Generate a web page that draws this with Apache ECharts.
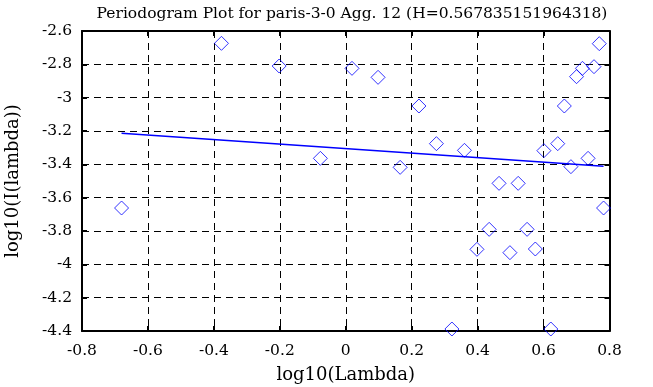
<!DOCTYPE html>
<html>
<head>
<meta charset="utf-8">
<script src="https://cdn.jsdelivr.net/npm/echarts@6/dist/echarts.min.js"></script>
<style>html,body{margin:0;padding:0;background:#fff}#c{width:653px;height:387px}</style>
</head>
<body>
<div id="c"></div>
<script>
const titleText = 'Periodogram Plot for paris-3-0 Agg. 12 (H=0.567835151964318)';
const xName = 'log10(Lambda)';
const yName = 'log10(I(lambda))';
const xTicks = [-0.8, -0.6, -0.4, -0.2, 0, 0.2, 0.4, 0.6, 0.8];
const yTicks = [-4.4, -4.2, -4, -3.8, -3.6, -3.4, -3.2, -3, -2.8, -2.6];
const logLambda = [-0.680, -0.377, -0.202, -0.077, 0.019, 0.098, 0.165, 0.222, 0.275, 0.322, 0.360, 0.398, 0.435, 0.465, 0.498, 0.523, 0.550, 0.575, 0.601, 0.622, 0.643, 0.663, 0.683, 0.700, 0.718, 0.735, 0.753, 0.769, 0.782];
const logI = [-3.662, -2.674, -2.810, -3.364, -2.824, -2.878, -3.418, -3.050, -3.276, -4.388, -3.316, -3.910, -3.790, -3.514, -3.930, -3.514, -3.790, -3.908, -3.318, -4.388, -3.276, -3.050, -3.414, -2.874, -2.824, -3.364, -2.814, -2.676, -3.662];
const fitX = [-0.680, 0.782];
const fitY = [-3.214, -3.412];

const font = 'DejaVu Serif';
const chart = echarts.init(document.getElementById('c'), null, {renderer: 'canvas'});
const gridLine = {show: true, lineStyle: {color: '#000', width: 1, type: [7, 5]}};
const axisBase = {
  type: 'value', interval: 0.2,
  axisLine: {show: true, onZero: false, lineStyle: {color: '#000', width: 2}},
  axisTick: {show: true, inside: true, length: 5, lineStyle: {color: '#000', width: 2}},
};
const fmt = v => String(Math.round(v * 10) / 10);
chart.setOption({
  animation: false,
  title: {text: titleText, left: 347, top: 1, textAlign: 'center',
    textStyle: {fontFamily: font, fontSize: 15.5, fontWeight: 'normal', color: '#000'}},
  grid: {left: 82, right: 43.5, top: 31, bottom: 56, containLabel: false, outerBoundsMode: 'none'},
  xAxis: [
    Object.assign({}, axisBase, {position: 'bottom', min: xTicks[0], max: xTicks[xTicks.length-1],
      name: xName, nameLocation: 'middle', nameGap: 35,
      nameTextStyle: {fontFamily: font, fontSize: 18, color: '#000'},
      axisLabel: {margin: 12, formatter: fmt, fontFamily: font, fontSize: 15.5, color: '#000'},
      splitLine: gridLine}),
    Object.assign({}, axisBase, {position: 'top', min: xTicks[0], max: xTicks[xTicks.length-1],
      axisLabel: {show: false}, splitLine: {show: false}})
  ],
  yAxis: [
    Object.assign({}, axisBase, {position: 'left', min: yTicks[0], max: yTicks[yTicks.length-1],
      name: yName, nameLocation: 'middle', nameGap: 60, nameRotate: 90,
      nameTextStyle: {fontFamily: font, fontSize: 18, color: '#000'},
      axisLabel: {margin: 10, formatter: fmt, fontFamily: font, fontSize: 15.5, color: '#000'},
      splitLine: gridLine}),
    Object.assign({}, axisBase, {position: 'right', min: yTicks[0], max: yTicks[yTicks.length-1],
      axisLabel: {show: false}, splitLine: {show: false}})
  ],
  series: [
    {type: 'scatter', data: logLambda.map((x, i) => [x, logI[i]]), symbol: 'diamond', symbolSize: 14,
      itemStyle: {color: 'rgba(0,0,0,0)', borderColor: '#0000ff', borderWidth: 1}},
    {type: 'line', data: fitX.map((x, i) => [x, fitY[i]]), symbol: 'none',
      lineStyle: {color: '#0000ff', width: 1.5}}
  ]
});
</script>
</body>
</html>
